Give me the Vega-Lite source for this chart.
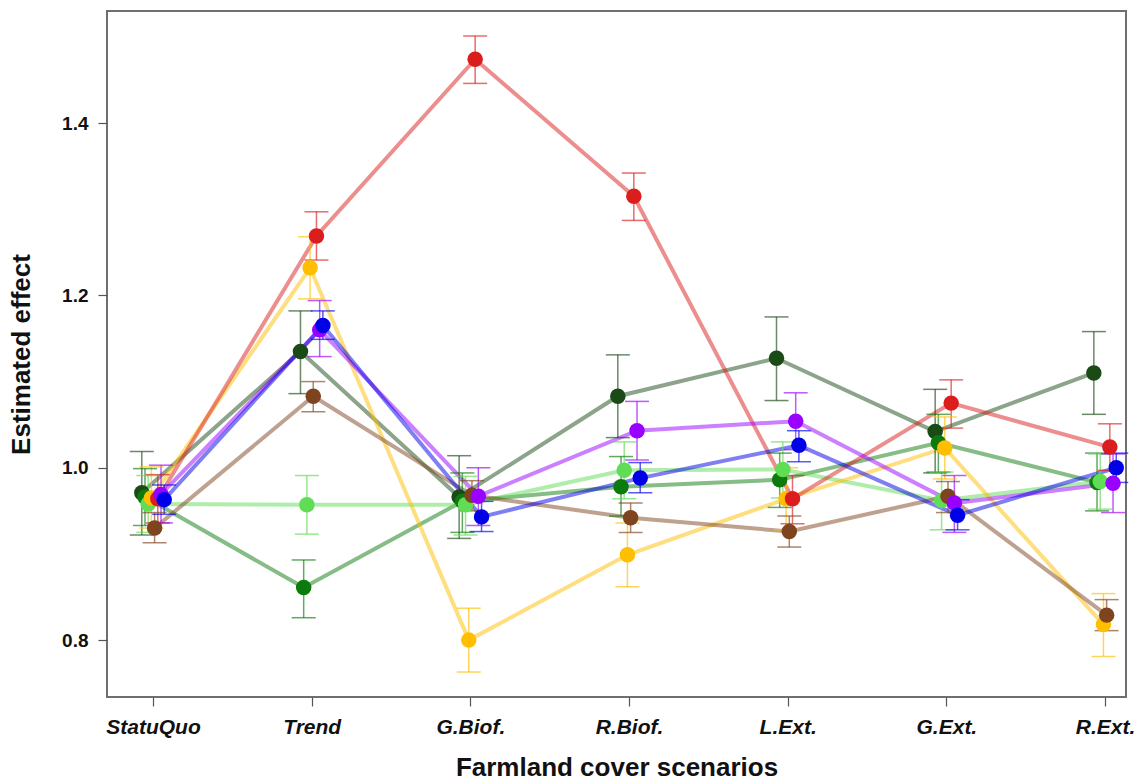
{
  "$schema": "https://vega.github.io/schema/vega-lite/v6.json",
  "width": 1019,
  "height": 686,
  "autosize": "none",
  "padding": {"left": 107, "top": 11, "right": 11, "bottom": 87},
  "background": "white",
  "config": {
    "view": {"stroke": "#6f6f6f", "strokeWidth": 2},
    "axis": {"grid": false, "domain": false, "labelFont": "Liberation Sans", "titleFont": "Liberation Sans", "labelFontWeight": "bold", "titleFontWeight": "bold", "labelColor": "#111", "titleColor": "#111", "tickColor": "#555", "tickWidth": 1.2}
  },
  "data": {"values": [
    {"series": "S1", "scenario": "StatuQuo", "idx": 1, "value": 0.971, "lo": 0.922, "hi": 1.019},
    {"series": "S1", "scenario": "Trend", "idx": 2, "value": 1.135, "lo": 1.086, "hi": 1.182},
    {"series": "S1", "scenario": "G.Biof.", "idx": 3, "value": 0.966, "lo": 0.918, "hi": 1.014},
    {"series": "S1", "scenario": "R.Biof.", "idx": 4, "value": 1.083, "lo": 1.035, "hi": 1.131},
    {"series": "S1", "scenario": "L.Ext.", "idx": 5, "value": 1.127, "lo": 1.078, "hi": 1.175},
    {"series": "S1", "scenario": "G.Ext.", "idx": 6, "value": 1.042, "lo": 0.994, "hi": 1.091},
    {"series": "S1", "scenario": "R.Ext.", "idx": 7, "value": 1.110, "lo": 1.062, "hi": 1.158},
    {"series": "S2", "scenario": "StatuQuo", "idx": 1, "value": 0.966, "lo": 0.933, "hi": 0.999},
    {"series": "S2", "scenario": "Trend", "idx": 2, "value": 0.861, "lo": 0.826, "hi": 0.893},
    {"series": "S2", "scenario": "G.Biof.", "idx": 3, "value": 0.961, "lo": 0.925, "hi": 0.994},
    {"series": "S2", "scenario": "R.Biof.", "idx": 4, "value": 0.978, "lo": 0.944, "hi": 1.013},
    {"series": "S2", "scenario": "L.Ext.", "idx": 5, "value": 0.986, "lo": 0.954, "hi": 1.017},
    {"series": "S2", "scenario": "G.Ext.", "idx": 6, "value": 1.029, "lo": 0.995, "hi": 1.062},
    {"series": "S2", "scenario": "R.Ext.", "idx": 7, "value": 0.983, "lo": 0.950, "hi": 1.017},
    {"series": "S3", "scenario": "StatuQuo", "idx": 1, "value": 0.958, "lo": 0.925, "hi": 0.991},
    {"series": "S3", "scenario": "Trend", "idx": 2, "value": 0.957, "lo": 0.923, "hi": 0.991},
    {"series": "S3", "scenario": "G.Biof.", "idx": 3, "value": 0.957, "lo": 0.922, "hi": 0.990},
    {"series": "S3", "scenario": "R.Biof.", "idx": 4, "value": 0.997, "lo": 0.964, "hi": 1.030},
    {"series": "S3", "scenario": "L.Ext.", "idx": 5, "value": 0.998, "lo": 0.965, "hi": 1.030},
    {"series": "S3", "scenario": "G.Ext.", "idx": 6, "value": 0.962, "lo": 0.928, "hi": 0.995},
    {"series": "S3", "scenario": "R.Ext.", "idx": 7, "value": 0.984, "lo": 0.952, "hi": 1.016},
    {"series": "S4", "scenario": "StatuQuo", "idx": 1, "value": 0.965, "lo": 0.930, "hi": 1.001},
    {"series": "S4", "scenario": "Trend", "idx": 2, "value": 1.232, "lo": 1.196, "hi": 1.268},
    {"series": "S4", "scenario": "G.Biof.", "idx": 3, "value": 0.800, "lo": 0.763, "hi": 0.837},
    {"series": "S4", "scenario": "R.Biof.", "idx": 4, "value": 0.899, "lo": 0.862, "hi": 0.936},
    {"series": "S4", "scenario": "L.Ext.", "idx": 5, "value": 0.964, "lo": 0.928, "hi": 1.000},
    {"series": "S4", "scenario": "G.Ext.", "idx": 6, "value": 1.023, "lo": 0.987, "hi": 1.059},
    {"series": "S4", "scenario": "R.Ext.", "idx": 7, "value": 0.818, "lo": 0.781, "hi": 0.854},
    {"series": "S5", "scenario": "StatuQuo", "idx": 1, "value": 0.930, "lo": 0.913, "hi": 0.948},
    {"series": "S5", "scenario": "Trend", "idx": 2, "value": 1.083, "lo": 1.065, "hi": 1.100},
    {"series": "S5", "scenario": "G.Biof.", "idx": 3, "value": 0.968, "lo": 0.950, "hi": 0.985},
    {"series": "S5", "scenario": "R.Biof.", "idx": 4, "value": 0.942, "lo": 0.925, "hi": 0.959},
    {"series": "S5", "scenario": "L.Ext.", "idx": 5, "value": 0.926, "lo": 0.908, "hi": 0.944},
    {"series": "S5", "scenario": "G.Ext.", "idx": 6, "value": 0.967, "lo": 0.948, "hi": 0.984},
    {"series": "S5", "scenario": "R.Ext.", "idx": 7, "value": 0.829, "lo": 0.811, "hi": 0.847},
    {"series": "S6", "scenario": "StatuQuo", "idx": 1, "value": 0.964, "lo": 0.936, "hi": 0.992},
    {"series": "S6", "scenario": "Trend", "idx": 2, "value": 1.269, "lo": 1.241, "hi": 1.297},
    {"series": "S6", "scenario": "G.Biof.", "idx": 3, "value": 1.474, "lo": 1.446, "hi": 1.501},
    {"series": "S6", "scenario": "R.Biof.", "idx": 4, "value": 1.315, "lo": 1.287, "hi": 1.342},
    {"series": "S6", "scenario": "L.Ext.", "idx": 5, "value": 0.964, "lo": 0.935, "hi": 0.991},
    {"series": "S6", "scenario": "G.Ext.", "idx": 6, "value": 1.075, "lo": 1.046, "hi": 1.102},
    {"series": "S6", "scenario": "R.Ext.", "idx": 7, "value": 1.024, "lo": 0.997, "hi": 1.051},
    {"series": "S7", "scenario": "StatuQuo", "idx": 1, "value": 0.969, "lo": 0.936, "hi": 1.003},
    {"series": "S7", "scenario": "Trend", "idx": 2, "value": 1.160, "lo": 1.129, "hi": 1.194},
    {"series": "S7", "scenario": "G.Biof.", "idx": 3, "value": 0.967, "lo": 0.933, "hi": 1.000},
    {"series": "S7", "scenario": "R.Biof.", "idx": 4, "value": 1.043, "lo": 1.009, "hi": 1.077},
    {"series": "S7", "scenario": "L.Ext.", "idx": 5, "value": 1.054, "lo": 1.021, "hi": 1.087},
    {"series": "S7", "scenario": "G.Ext.", "idx": 6, "value": 0.959, "lo": 0.925, "hi": 0.991},
    {"series": "S7", "scenario": "R.Ext.", "idx": 7, "value": 0.982, "lo": 0.948, "hi": 1.016},
    {"series": "S8", "scenario": "StatuQuo", "idx": 1, "value": 0.963, "lo": 0.946, "hi": 0.980},
    {"series": "S8", "scenario": "Trend", "idx": 2, "value": 1.165, "lo": 1.149, "hi": 1.182},
    {"series": "S8", "scenario": "G.Biof.", "idx": 3, "value": 0.943, "lo": 0.926, "hi": 0.961},
    {"series": "S8", "scenario": "R.Biof.", "idx": 4, "value": 0.988, "lo": 0.971, "hi": 1.006},
    {"series": "S8", "scenario": "L.Ext.", "idx": 5, "value": 1.026, "lo": 1.007, "hi": 1.043},
    {"series": "S8", "scenario": "G.Ext.", "idx": 6, "value": 0.945, "lo": 0.928, "hi": 0.963},
    {"series": "S8", "scenario": "R.Ext.", "idx": 7, "value": 1.000, "lo": 0.983, "hi": 1.017}
  ]},
  "encoding": {
    "x": {
      "field": "scenario", "type": "ordinal",
      "sort": ["StatuQuo", "Trend", "G.Biof.", "R.Biof.", "L.Ext.", "G.Ext.", "R.Ext."],
      "scale": {"type": "point", "padding": 0.211, "align": 0.687},
      "axis": {"title": "Farmland cover scenarios", "labelAngle": 0, "labelFontSize": 21, "labelFontStyle": "italic", "labelPadding": 10, "tickSize": 9, "titleFontSize": 26, "titlePadding": 17}
    },
    "xOffset": {
      "field": "series", "type": "nominal",
      "scale": {"type": "point", "domain": ["S1", "S2", "S3", "S4", "S5", "S6", "S7", "S8"], "range": [-11.2, 11.2], "padding": 0}
    },
    "color": {
      "field": "series", "type": "nominal", "legend": null,
      "scale": {"domain": ["S1", "S2", "S3", "S4", "S5", "S6", "S7", "S8"], "range": ["#1a4a16", "#0d7a0d", "#60dc55", "#ffbe00", "#7e4420", "#db1d1d", "#9a00ff", "#0000e8"]}
    }
  },
  "layer": [
    {
      "mark": {"type": "line", "strokeWidth": 4, "opacity": 0.5},
      "encoding": {
        "y": {"field": "value", "type": "quantitative", "scale": {"domain": [0.734, 1.53], "nice": false, "zero": false},
          "axis": {"title": "Estimated effect", "values": [0.8, 1.0, 1.2, 1.4], "format": ".1f", "labelFontSize": 19, "tickSize": 9, "labelPadding": 10, "titleFontSize": 26, "titlePadding": 27}},
        "order": {"field": "idx", "type": "quantitative"}
      }
    },
    {
      "mark": {"type": "rule", "strokeWidth": 1.5, "opacity": 0.65},
      "encoding": {
        "y": {"field": "lo", "type": "quantitative"},
        "y2": {"field": "hi"}
      }
    },
    {
      "mark": {"type": "tick", "orient": "horizontal", "size": 24, "thickness": 1.5, "opacity": 0.65},
      "encoding": {"y": {"field": "lo", "type": "quantitative"}}
    },
    {
      "mark": {"type": "tick", "orient": "horizontal", "size": 24, "thickness": 1.5, "opacity": 0.65},
      "encoding": {"y": {"field": "hi", "type": "quantitative"}}
    },
    {
      "mark": {"type": "circle", "size": 240, "opacity": 1},
      "encoding": {"y": {"field": "value", "type": "quantitative"}}
    }
  ]
}
